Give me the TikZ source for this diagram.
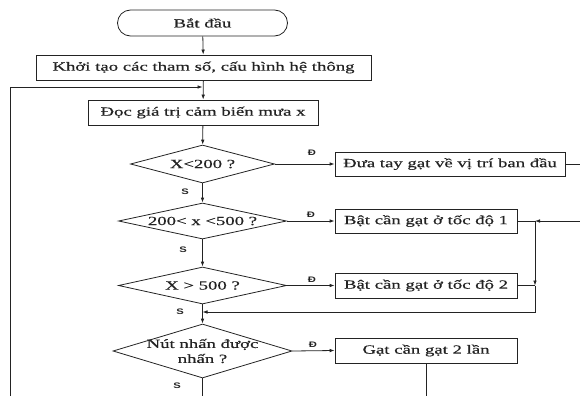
\documentclass[tikz,border=0pt]{standalone}
\usepackage{fontspec}
\setmainfont{Liberation Serif}[FakeStretch=1.5,FakeBold=0.5]
\newfontfamily\lblfont{Liberation Sans}[FakeStretch=1.4]
\usetikzlibrary{shapes.geometric,arrows.meta}
\definecolor{ink}{RGB}{35,35,35}
\begin{document}
\begin{tikzpicture}[x=1pt,y=-1pt,
  every node/.style={font=\fontsize{12.5}{15}\selectfont, text=ink},
  procbox/.style={draw=ink, line width=0.8pt, rectangle, minimum height=25pt, inner sep=2pt},
  termbox/.style={draw=ink, line width=0.8pt, rectangle, rounded corners=13pt, minimum width=170pt, minimum height=26pt},
  decision/.style={draw=ink, line width=0.8pt, diamond, inner sep=0pt},
  flow/.style={draw=ink, line width=0.8pt, -{Latex[length=5pt,width=3.6pt]}},
  plain/.style={draw=ink, line width=0.8pt},
  yn/.style={font=\lblfont\bfseries\fontsize{8}{9}\selectfont, inner sep=0pt}
]
\useasboundingbox (0,0) rectangle (580,396);

% main column
\node[termbox] (start) at (202.5,23) {Bắt đầu};
\node[procbox, minimum width=335pt] (init) at (203.5,67.5) {Khởi tạo các tham số, cấu hình hệ thông};
\node[procbox, minimum width=230pt] (read) at (203,112.5) {Đọc giá trị cảm biến mưa x};
\node[decision, minimum width=144pt, minimum height=38pt, label={center:X<200 ?}] (d1) at (202.5,164) {};
\node[decision, minimum width=168pt, minimum height=36pt, label={center:200< x <500 ?}] (d2) at (202.5,221) {};
\node[decision, minimum width=168pt, minimum height=37pt, label={center:X > 500 ?}] (d3) at (202.5,285.5) {};
\node[decision, minimum width=179pt, minimum height=54pt, label={[align=center]center:Nút nhấn được\\nhấn ?}] (d4) at (202.5,351) {};

% right column
\node[procbox, minimum width=230pt, minimum height=24pt] (r1) at (450,164) {Đưa tay gạt về vị trí ban đầu};
\node[procbox, minimum width=182pt, minimum height=24pt] (r2) at (426,221) {Bật cần gạt ở tốc độ 1};
\node[procbox, minimum width=182pt] (r3) at (426,285.5) {Bật cần gạt ở tốc độ 2};
\node[procbox, minimum width=182pt] (r4) at (426,350.5) {Gạt cần gạt 2 lần};

% helper coordinates
\coordinate (loopb) at (10,396);
\coordinate (loopt) at (202.5,87);
\coordinate (r1out) at (580,164);
\coordinate (r2in) at (580,221);
\coordinate (j1) at (535,221);
\coordinate (j2) at (535,285.5);
\coordinate (j3) at (535,312);
\coordinate (jm) at (202.5,312);
\coordinate (r4out) at (426,396);
\coordinate (d4out) at (202.5,396);

% connectors
\draw[flow] (start) -- (init);
\draw[flow] (init) -- (read);
\draw[flow] (loopb) |- (loopt);
\draw[flow] (read) -- (d1);
\draw[flow] (d1) -- (d2);
\draw[flow] (d2) -- (d3);
\draw[flow] (d3) -- (d4);
\draw[plain] (d4.south) -- (d4out);

\draw[flow] (d1.east) -- (r1.west);
\draw[flow] (d2.east) -- (r2.west);
\draw[flow] (d3.east) -- (r3.west);
\draw[flow] (d4.east) -- (r4.west);

\draw[plain] (r1.east) -- (r1out);
\draw[plain] (r2.east) -- (j1);
\draw[flow] (r2in) -- (j1);
\draw[plain] (r3.east) -- (j2);
\draw[flow] (j1) -- (j2);
\draw[flow] (j2) -- (j3) -- (jm);
\draw[plain] (r4.south) -- (r4out);

% branch labels
\node[yn] (y1) at (312,153) {Đ};
\node[yn] (y2) at (311,215) {Đ};
\node[yn] (y3) at (312,280) {Đ};
\node[yn] (y4) at (313,345) {Đ};
\node[yn] (n1) at (185,192) {S};
\node[yn] (n2) at (183,250) {S};
\node[yn] (n3) at (180,312) {S};
\node[yn] (n4) at (177,386) {S};
\end{tikzpicture}
\end{document}
